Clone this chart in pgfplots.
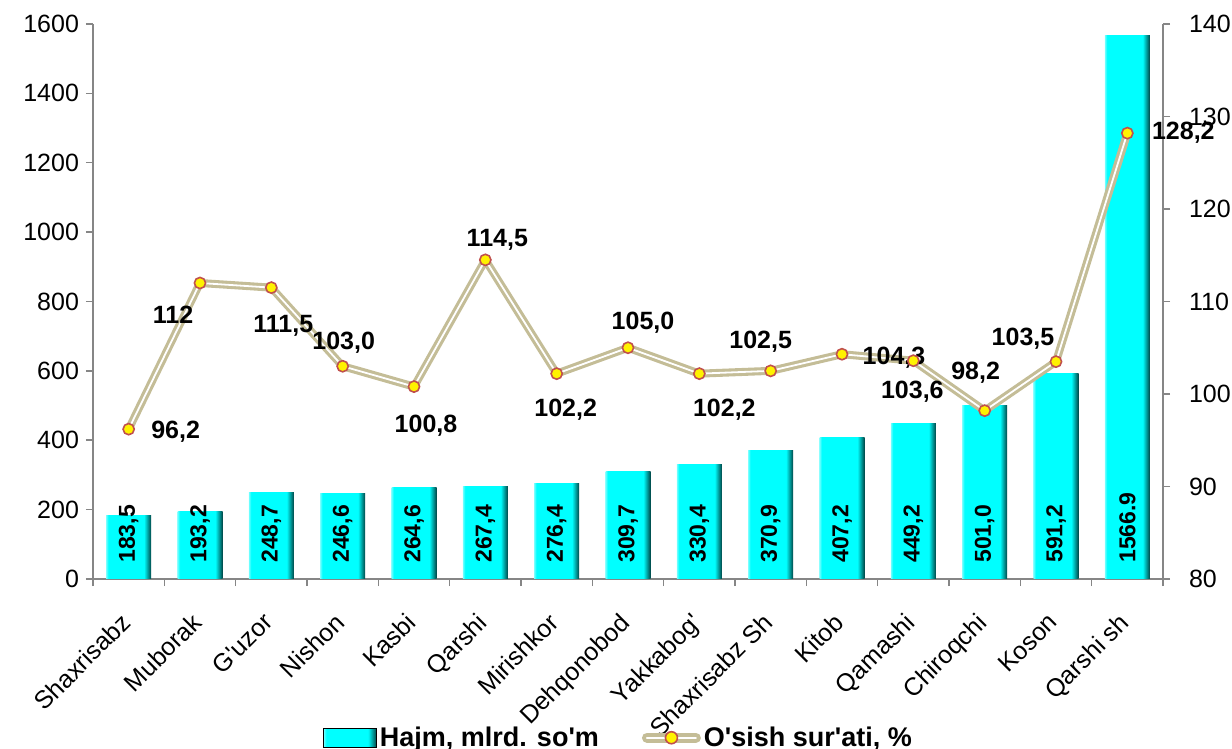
\documentclass[border=0pt]{standalone}
\usepackage{pgfplots}
\usepackage{pgfplotstable}
\usepackage{fontspec}
\setmainfont{Liberation Sans}[Ligatures=TeXOff]
\pgfplotsset{compat=1.18}

\definecolor{barcyan}{HTML}{00FFFF}
\definecolor{bardark}{HTML}{004545}
\definecolor{linetan}{HTML}{C4BD97}
\definecolor{mkred}{HTML}{C0504D}
\definecolor{axgray}{HTML}{868686}

% bevelled bar look: light left edge, dark right edge
\pgfdeclarehorizontalshading{barshade}{100bp}{color(0bp)=(barcyan!55!white); color(25bp)=(barcyan!55!white);
  color(27.5bp)=(barcyan); color(67bp)=(barcyan); color(75bp)=(bardark); color(100bp)=(bardark)}

\newcommand\tf{\fontsize{12.5}{15}\selectfont}

\pgfplotstableread{
x v lbl
0 183.5 183,5
1 193.2 193,2
2 248.7 248,7
3 246.6 246,6
4 264.6 264,6
5 267.4 267,4
6 276.4 276,4
7 309.7 309,7
8 330.4 330,4
9 370.9 370,9
10 407.2 407,2
11 449.2 449,2
12 501.0 501,0
13 591.2 591,2
14 1566.9 1566.9
}\bars

\pgfplotstableread{
x y lbl dx dy
0 96.2 96,2 23.5 -1.5
1 112.0 112 -13.5 -16
2 111.5 111,5 6 -19
3 103.0 103,0 0.5 12
4 100.8 100,8 6 -19.5
5 114.5 114,5 6 10
6 102.2 102,2 4.5 -18
7 105.0 105,0 7.5 12.5
8 102.2 102,2 12.5 -18
9 102.5 102,5 -5 14.5
10 104.3 104,3 26 -1.5
11 103.6 103,6 -0.5 -15.5
12 98.2 98,2 -4.5 19
13 103.5 103,5 -16.5 11.5
14 128.2 128,2 28 0
}\growth

\pgfplotsset{
  common/.style={
    scale only axis, width=535pt, height=277.5pt,
    xmin=-0.5, xmax=14.5,
    tick align=outside,
    major tick length=3.5pt, minor tick length=3.5pt,
    axis line style={axgray, line width=0.75pt},
    tick style={axgray, line width=0.75pt},
    tick label style={font=\tf},
    /pgf/number format/assume math mode=true,
    /pgf/number format/1000 sep={},
  }
}

\begin{document}
\begin{tikzpicture}
\useasboundingbox (-46.5pt,-85pt) rectangle (569.5pt,289.5pt);
\begin{axis}[common,
  ymin=0, ymax=1600, ytick={0,200,...,1600},
  axis y line*=left, axis x line*=bottom,
  xtick={0,...,14},
  xticklabels={Shaxrisabz,Muborak,G'uzor,Nishon,Kasbi,Qarshi,Mirishkor,Dehqonobod,Yakkabog',{Shaxrisabz Sh},Kitob,Qamashi,Chiroqchi,Koson,{Qarshi sh}},
  x tick label style={rotate=45, anchor=north east, inner sep=1pt, yshift=-4.5pt, xshift=-11.2pt},
  major x tick style={draw=none},
  minor xtick={-0.5,0.5,...,14.5},
]
% one plot per bar so that each bar gets its own shading
\pgfplotsinvokeforeach{0,...,14}{
  \addplot[ybar, bar width=22.5pt, draw=none, shading=barshade, forget plot]
    table[x=x, y=v, restrict expr to domain={\thisrow{x}}{#1:#1}] {\bars};
}
\addplot[draw=none, mark=none, nodes near coords, point meta=explicit symbolic,
  every node near coord/.append style={rotate=90, anchor=west, inner xsep=8pt,
    font=\bfseries\fontsize{11.5}{14}\selectfont}]
  table[x=x, y expr=0, meta=lbl] {\bars};
\end{axis}

\begin{axis}[common,
  ymin=80, ymax=140, ytick={80,90,...,140},
  axis y line*=right, axis x line=none,
  y tick label style={xshift=6pt},
  legend style={at={(0.4916,-0.286)}, anchor=center, draw=none, fill=none,
    legend columns=2, font=\bfseries\fontsize{13.5}{16}\selectfont,
    nodes={inner xsep=1.5pt},
    /tikz/every even column/.append style={column sep=20pt}},
]
\addlegendimage{legend image code/.code={
  \fill[shading=barshade] (0pt,-4.75pt) rectangle (26.5pt,4.75pt);}}
\addlegendentry{Hajm, mlrd. so'm}
\addplot[linetan, line width=4pt, mark=none, line join=round,
  legend image code/.code={
    \draw[linetan, line width=5pt, line cap=round] (2.5pt,0pt) -- (27pt,0pt);
    \draw[white, line width=1pt, line cap=round] (2.5pt,0pt) -- (27pt,0pt);
    \filldraw[fill=yellow, draw=mkred, line width=0.8pt] (14.75pt,0pt) circle (3pt);}]
  table[x=x, y=y] {\growth};
\addlegendentry{O'sish sur'ati, \%}
\addplot[white, line width=0.9pt, mark=none, line join=round, forget plot] table[x=x, y=y] {\growth};
\addplot[only marks, mark=*, mark size=2.8pt, forget plot,
  mark options={fill=yellow, draw=mkred, line width=0.8pt},
  nodes near coords, point meta=explicit symbolic,
  visualization depends on={\thisrow{dx} \as \dx},
  visualization depends on={\thisrow{dy} \as \dy},
  every node near coord/.append style={anchor=center, font=\bfseries\tf,
    xshift=\dx pt, yshift=\dy pt}]
  table[x=x, y=y, meta=lbl] {\growth};
\end{axis}
\end{tikzpicture}
\end{document}
